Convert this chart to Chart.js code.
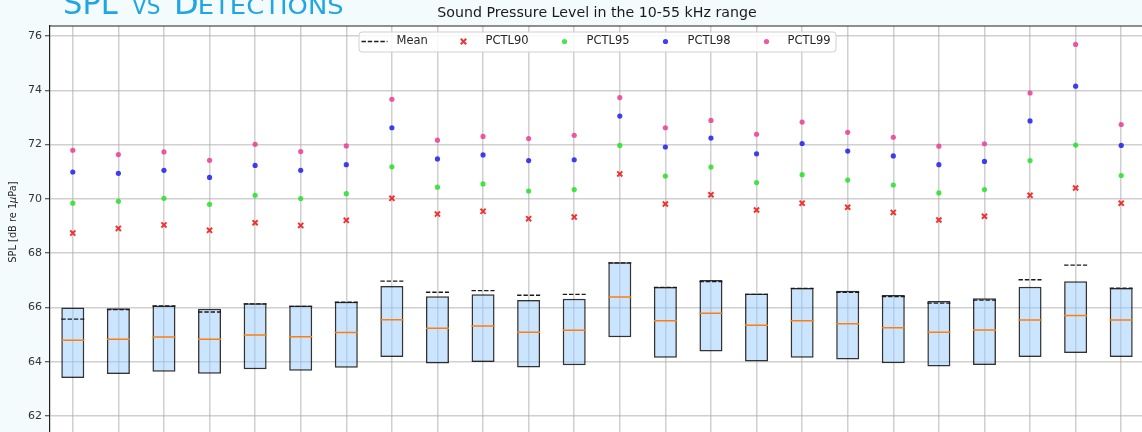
<!DOCTYPE html>
<html>
<head>
<meta charset="utf-8">
<script src="https://cdn.jsdelivr.net/npm/chart.js@4.4.1/dist/chart.umd.min.js"></script>
<style>
  html, body { margin: 0; padding: 0; background: #f4fbfd; overflow: hidden; }
  #wrap { position: relative; width: 1142px; height: 432px; overflow: hidden; }
  canvas { display: block; }
</style>
</head>
<body>
<div id="wrap"><canvas id="spl" width="1144" height="470"></canvas></div>
<script>
// Hourly slots (x positions of the boxes)
const slots = [0, 1, 2, 3, 4, 5, 6, 7, 8, 9, 10, 11, 12, 13, 14, 15, 16, 17, 18, 19, 20, 21, 22, 23];

// Box statistics per slot, dB re 1 uPa
const q1     = [63.40, 63.55, 63.63, 63.56, 63.72, 63.67, 63.78, 64.17, 63.93, 63.99, 63.79, 63.87, 64.90, 64.15, 64.38, 64.01, 64.15, 64.08, 63.94, 63.82, 63.88, 64.17, 64.32, 64.17];
const q3     = [66.00, 65.97, 66.07, 65.95, 66.15, 66.07, 66.21, 66.79, 66.41, 66.49, 66.27, 66.32, 67.66, 66.75, 67.01, 66.51, 66.72, 66.61, 66.46, 66.24, 66.34, 66.76, 66.96, 66.72];
const median = [64.79, 64.83, 64.91, 64.83, 64.98, 64.92, 65.08, 65.55, 65.23, 65.32, 65.09, 65.16, 66.38, 65.51, 65.79, 65.34, 65.51, 65.40, 65.25, 65.09, 65.17, 65.54, 65.70, 65.54];
const mean   = [65.57, 65.92, 66.05, 65.83, 66.13, 66.04, 66.19, 66.97, 66.56, 66.62, 66.45, 66.48, 67.64, 66.74, 66.95, 66.48, 66.70, 66.56, 66.40, 66.16, 66.27, 67.02, 67.56, 66.71];

// Upper percentiles per slot
const p90 = [68.74, 68.91, 69.04, 68.84, 69.12, 69.02, 69.21, 70.02, 69.44, 69.54, 69.27, 69.33, 70.92, 69.81, 70.15, 69.59, 69.84, 69.69, 69.50, 69.22, 69.36, 70.13, 70.40, 69.84];
const p95 = [69.84, 69.91, 70.02, 69.80, 70.13, 70.01, 70.19, 71.18, 70.43, 70.55, 70.29, 70.34, 71.97, 70.84, 71.17, 70.60, 70.89, 70.69, 70.51, 70.22, 70.34, 71.41, 71.98, 70.86];
const p98 = [70.99, 70.94, 71.05, 70.79, 71.23, 71.05, 71.26, 72.62, 71.47, 71.62, 71.41, 71.44, 73.05, 71.91, 72.24, 71.66, 72.04, 71.76, 71.58, 71.26, 71.38, 72.87, 74.15, 71.97];
const p99 = [71.79, 71.63, 71.73, 71.42, 72.01, 71.74, 71.95, 73.67, 72.16, 72.30, 72.22, 72.34, 73.73, 72.62, 72.89, 72.38, 72.83, 72.45, 72.27, 71.94, 72.03, 73.90, 75.69, 72.74];

// Y axis tick values
const yTicks = [62, 64, 66, 68, 70, 72, 74, 76];

const FONT = '"DejaVu Sans", Verdana, sans-serif';
const BOX_FRACTION = 0.505;             // box width as a fraction of the slot spacing
const HALF = BOX_FRACTION / 2;

// Horizontal segments spanning each box (null breaks the line between boxes)
function boxSegments(values) {
  const pts = [];
  slots.forEach((s, i) => {
    pts.push({ x: s - HALF, y: values[i] });
    pts.push({ x: s + HALF, y: values[i] });
    pts.push({ x: s + HALF, y: null });
  });
  return pts;
}
const points = values => slots.map((s, i) => ({ x: s, y: values[i] }));

const COLORS = {
  p90: 'rgba(240,30,30,0.9)',
  p95: 'rgba(40,225,40,0.85)',
  p98: 'rgba(30,30,235,0.85)',
  p99: 'rgba(235,60,150,0.85)',
  mean: '#1a1a1a',
  median: '#ff7f0e'
};

// Page background, plot background and the section heading
const backdrop = {
  id: 'backdrop',
  beforeDraw(chart) {
    const { ctx, chartArea: a } = chart;
    ctx.save();
    ctx.fillStyle = '#f4fbfd';
    ctx.fillRect(0, 0, chart.width, chart.height);
    ctx.fillStyle = '#ffffff';
    ctx.fillRect(a.left, a.top, a.right - a.left, a.bottom - a.top);

    // Small-caps heading
    const parts = [
      { t: 'SPL', size: 32, x0: 65, x1: 118 },
      { t: 'VS', size: 23, x0: 132, x1: 160 },
      { t: 'D', size: 32, x0: 177, x1: 197 },
      { t: 'ETECTIONS', size: 23, x0: 200, x1: 343 }
    ];
    ctx.fillStyle = '#1fa6e3';
    ctx.textBaseline = 'alphabetic';
    ctx.textAlign = 'left';
    parts.forEach(p => {
      ctx.font = p.size + 'px ' + FONT;
      const m = ctx.measureText(p.t);
      const ink = m.actualBoundingBoxLeft + m.actualBoundingBoxRight;
      ctx.save();
      ctx.translate(p.x0, 13.6);
      ctx.scale((p.x1 - p.x0) / ink, 1);
      ctx.fillText(p.t, m.actualBoundingBoxLeft, 0);
      ctx.restore();
    });

    // Y axis label with italic mu
    ctx.save();
    ctx.translate(13.5, 222);
    ctx.rotate(-Math.PI / 2);
    ctx.fillStyle = '#262626';
    ctx.textBaseline = 'middle';
    const segs = [
      { t: 'SPL [dB re 1', f: '9.8px ' + FONT },
      { t: 'μ', f: 'italic 9.8px ' + FONT },
      { t: 'Pa]', f: '9.8px ' + FONT }
    ];
    let total = 0;
    segs.forEach(s => { ctx.font = s.f; s.w = ctx.measureText(s.t).width; total += s.w; });
    let x = -total / 2;
    segs.forEach(s => { ctx.font = s.f; ctx.fillText(s.t, x, 0); x += s.w; });
    ctx.restore();
    ctx.restore();
  },
  afterDraw(chart) {
    const { ctx, chartArea: a } = chart;
    ctx.save();
    ctx.strokeStyle = '#222222';
    ctx.lineWidth = 1.2;
    ctx.beginPath();
    ctx.moveTo(a.left, a.top);
    ctx.lineTo(a.right, a.top);
    ctx.lineTo(a.right, a.bottom);
    ctx.stroke();
    ctx.restore();
  }
};

// Legend box laid over the top of the plot
const legendBox = {
  id: 'legendBox',
  afterDatasetsDraw(chart) {
    const { ctx, chartArea: a, scales } = chart;
    const cx = scales.x.getPixelForValue((slots[0] + slots[slots.length - 1]) / 2);
    const w = 477, h = 20;
    const left = cx - w / 2, top = a.top + 5.5;
    const cy = top + h / 2;
    ctx.save();
    ctx.fillStyle = 'rgba(255,255,255,0.85)';
    ctx.strokeStyle = '#d0d0d0';
    ctx.lineWidth = 1;
    ctx.beginPath();
    ctx.roundRect(left + 0.5, top + 0.5, w, h, 3);
    ctx.fill();
    ctx.stroke();

    const byLabel = l => chart.data.datasets.find(d => d.label === l);
    const entries = [
      { label: 'Mean', mx: 3, tx: 38 },
      { label: 'PCTL90', mx: 105, tx: 127 },
      { label: 'PCTL95', mx: 206, tx: 228 },
      { label: 'PCTL98', mx: 307, tx: 329 },
      { label: 'PCTL99', mx: 408, tx: 429 }
    ];
    ctx.font = '11.5px ' + FONT;
    ctx.textBaseline = 'middle';
    ctx.fillStyle = '#262626';
    entries.forEach(e => {
      const ds = byLabel(e.label);
      ctx.save();
      if (e.label === 'Mean') {
        ctx.strokeStyle = ds.borderColor;
        ctx.lineWidth = ds.borderWidth;
        ctx.setLineDash(ds.borderDash);
        ctx.beginPath();
        ctx.moveTo(left + e.mx, cy);
        ctx.lineTo(left + e.mx + 26, cy);
        ctx.stroke();
      } else if (ds.pointStyle === 'crossRot') {
        const r = ds.pointRadius * 0.75;
        ctx.strokeStyle = ds.pointBorderColor;
        ctx.lineWidth = ds.pointBorderWidth;
        ctx.beginPath();
        ctx.moveTo(left + e.mx - r, cy - r); ctx.lineTo(left + e.mx + r, cy + r);
        ctx.moveTo(left + e.mx - r, cy + r); ctx.lineTo(left + e.mx + r, cy - r);
        ctx.stroke();
      } else {
        ctx.fillStyle = ds.pointBackgroundColor;
        ctx.beginPath();
        ctx.arc(left + e.mx, cy, ds.pointRadius, 0, Math.PI * 2);
        ctx.fill();
      }
      ctx.restore();
      ctx.fillText(e.label, left + e.tx, cy);
    });
    ctx.restore();
  }
};

const dotSet = (label, values, color, order) => ({
  type: 'line', label, data: points(values), showLine: false,
  pointStyle: 'circle', pointRadius: 2.6, pointBorderWidth: 0,
  pointBackgroundColor: color, pointBorderColor: color, order
});

new Chart(document.getElementById('spl'), {
  type: 'bar',
  data: {
    datasets: [
      dotSet('PCTL99', p99, COLORS.p99, 0),
      dotSet('PCTL98', p98, COLORS.p98, 1),
      dotSet('PCTL95', p95, COLORS.p95, 2),
      {
        type: 'line', label: 'PCTL90', data: points(p90), showLine: false,
        pointStyle: 'crossRot', pointRadius: 3.6, pointBorderWidth: 2,
        pointBorderColor: COLORS.p90, pointBackgroundColor: COLORS.p90, order: 3
      },
      {
        type: 'line', label: 'Mean', data: boxSegments(mean), spanGaps: false,
        borderColor: COLORS.mean, borderWidth: 1.4, borderDash: [4.4, 1.9],
        pointRadius: 0, order: 4
      },
      {
        type: 'line', label: 'Median', data: boxSegments(median), spanGaps: false,
        borderColor: COLORS.median, borderWidth: 1.5, pointRadius: 0, order: 5
      },
      {
        type: 'bar', label: 'IQR', data: slots.map((s, i) => ({ x: s, y: [q1[i], q3[i]] })),
        backgroundColor: 'rgba(153,204,255,0.5)', borderColor: 'rgba(0,0,0,0.8)',
        borderWidth: 1.5, borderSkipped: false,
        categoryPercentage: 1, barPercentage: BOX_FRACTION, order: 6
      }
    ]
  },
  options: {
    responsive: false,
    animation: false,
    events: [],
    layout: { padding: 0, autoPadding: false },
    plugins: {
      legend: { display: false },
      tooltip: { enabled: false },
      title: {
        display: true,
        text: 'Sound Pressure Level in the 10-55 kHz range',
        fullSize: false,
        color: '#1a1a1a',
        font: { family: FONT, size: 14.2, weight: 'normal', lineHeight: 1.2 },
        padding: { top: 4.8, bottom: 4.16 }
      }
    },
    scales: {
      x: {
        type: 'linear',
        min: slots[0] - 0.5,
        max: slots[slots.length - 1] + 0.5,
        offset: false,
        afterBuildTicks: s => { s.ticks = slots.map(v => ({ value: v })); },
        afterFit: s => { s.height = 10; },
        ticks: { display: false },
        grid: { offset: false, drawTicks: false, color: 'rgba(170,170,170,0.55)', lineWidth: 1.5 },
        border: { display: false }
      },
      y: {
        min: 60.379,
        max: 76.368,
        afterBuildTicks: s => { s.ticks = yTicks.map(v => ({ value: v })); },
        afterFit: s => { s.width = 50; },
        ticks: {
          callback: v => String(v),
          color: '#333333',
          padding: 3,
          font: { family: FONT, size: 11 }
        },
        grid: {
          color: 'rgba(170,170,170,0.55)', lineWidth: 1.5,
          tickLength: 5, tickColor: '#333333', tickWidth: 1
        },
        border: { color: '#222222', width: 1.2 }
      }
    }
  },
  plugins: [backdrop, legendBox]
});
</script>
</body>
</html>
